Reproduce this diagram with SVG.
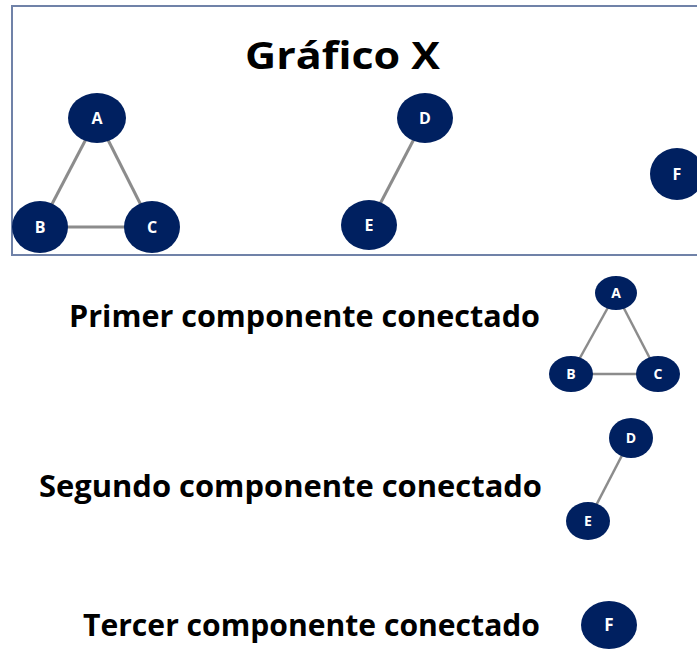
<svg xmlns="http://www.w3.org/2000/svg" width="697" height="650" viewBox="0 0 697 650">
<style>
.n{fill:#002060}
.e{stroke:#8c8c8c;stroke-width:3;fill:none}
.es{stroke:#8c8c8c;stroke-width:2.5;fill:none}
.l{fill:#ffffff;font-family:"Open Sans","Liberation Sans",Arial,sans-serif;font-weight:bold;text-anchor:middle}
.t{fill:#000000;font-family:"Open Sans","Liberation Sans",Arial,sans-serif;font-weight:bold}
</style>
<rect x="0" y="0" width="697" height="650" fill="#ffffff"/>
<rect id="frame" x="12" y="6" width="700" height="249" fill="none" stroke="#7082a8" stroke-width="2"/>
<text class="t" x="245" y="69" font-size="38" textLength="195" lengthAdjust="spacingAndGlyphs">Gráfico X</text>
<text class="t" x="69" y="327" font-size="31" textLength="471" lengthAdjust="spacingAndGlyphs">Primer componente conectado</text>
<text class="t" x="39" y="497" font-size="31" textLength="503" lengthAdjust="spacingAndGlyphs">Segundo componente conectado</text>
<text class="t" x="83" y="636" font-size="31" textLength="457" lengthAdjust="spacingAndGlyphs">Tercer componente conectado</text>
<g id="connectors">
<line class="e" x1="97" y1="118" x2="40" y2="227"/>
<line class="e" x1="97" y1="118" x2="152" y2="227"/>
<line class="e" x1="40" y1="227" x2="152" y2="227"/>
<line class="e" x1="425" y1="118" x2="369" y2="225"/>
<line class="es" x1="616" y1="293" x2="571" y2="374"/>
<line class="es" x1="616" y1="293" x2="658" y2="374"/>
<line class="es" x1="571" y1="374" x2="658" y2="374"/>
<line class="es" x1="631" y1="438" x2="588" y2="521"/>
</g>
<g id="A"><ellipse class="n" cx="97" cy="118" rx="29" ry="25"/><text class="l" x="97" y="124" font-size="16">A</text></g>
<g id="B"><ellipse class="n" cx="40" cy="227" rx="28" ry="26"/><text class="l" x="40" y="233" font-size="16">B</text></g>
<g id="C"><ellipse class="n" cx="152" cy="227" rx="28" ry="26"/><text class="l" x="152" y="233" font-size="16">C</text></g>
<g id="D"><ellipse class="n" cx="425" cy="118" rx="28" ry="25"/><text class="l" x="425" y="124" font-size="16">D</text></g>
<g id="E"><ellipse class="n" cx="369" cy="225" rx="28" ry="25"/><text class="l" x="369" y="231" font-size="16">E</text></g>
<g id="F"><ellipse class="n" cx="677" cy="174" rx="27" ry="26"/><text class="l" x="677" y="180" font-size="16">F</text></g>
<g id="A2"><ellipse class="n" cx="616" cy="293" rx="21" ry="17"/><text class="l" x="616" y="298" font-size="14">A</text></g>
<g id="B2"><ellipse class="n" cx="571" cy="374" rx="22" ry="18"/><text class="l" x="571" y="379" font-size="14">B</text></g>
<g id="C2"><ellipse class="n" cx="658" cy="374" rx="22" ry="18"/><text class="l" x="658" y="379" font-size="14">C</text></g>
<g id="D2"><ellipse class="n" cx="631" cy="438" rx="22" ry="20"/><text class="l" x="631" y="443" font-size="14">D</text></g>
<g id="E2"><ellipse class="n" cx="588" cy="521" rx="22" ry="19"/><text class="l" x="588" y="526" font-size="14">E</text></g>
<g id="F2"><ellipse class="n" cx="609" cy="625" rx="28" ry="24"/><text class="l" x="609" y="631" font-size="17">F</text></g>
</svg>
